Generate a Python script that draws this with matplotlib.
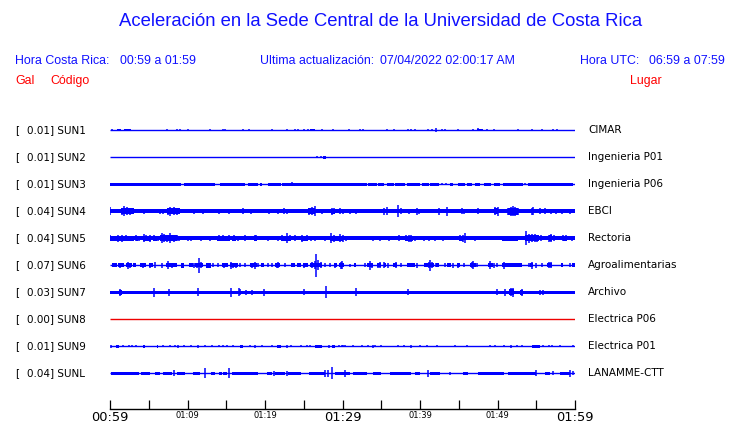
import matplotlib
matplotlib.use("Agg")
import matplotlib.pyplot as plt

W, H = 740, 423

# station labels, gal values and places (top to bottom)
codes = ["SUN1", "SUN2", "SUN3", "SUN4", "SUN5", "SUN6", "SUN7", "SUN8", "SUN9", "SUNL"]
gals = ["0.01", "0.01", "0.01", "0.04", "0.04", "0.07", "0.03", "0.00", "0.01", "0.04"]
places = ["CIMAR", "Ingenieria P01", "Ingenieria P06", "EBCI", "Rectoria",
          "Agroalimentarias", "Archivo", "Electrica P06", "Electrica P01", "LANAMME-CTT"]

# time axis (minutes after 00:59)
tick_min = [0, 5, 10, 15, 20, 25, 30, 35, 40, 45, 50, 55, 60]
tick_lbl = ["00:59", "", "01:09", "", "01:19", "", "01:29", "", "01:39", "", "01:49", "", "01:59"]
big_lbl = ["00:59", "01:29", "01:59"]

# half-width of the continuous body of each trace (px)
base = [0.0, 0.0, 0.0, 1.8, 1.9, 0.0, 1.8, 0.0, 0.0, 0.0]

# spikes: (minute, half amplitude px)
sun1_spk = [(0.2, 1.3), (1.0, 1.3), (1.3, 1.3), (1.9, 1.3), (2.6, 1.3), (7.4, 1.0), (8.6, 1.3),
            (9.0, 1.0), (10.0, 1.3), (12.9, 1.3), (14.6, 1.0), (14.9, 1.3), (17.2, 1.3), (17.9, 1.0),
            (20.9, 1.3), (22.8, 1.3), (23.9, 1.3), (24.3, 1.3), (25.0, 1.3), (25.6, 1.3), (26.2, 1.3),
            (27.3, 1.0), (28.8, 1.3), (30.9, 1.3), (32.3, 1.3), (32.6, 1.0), (35.8, 1.0), (36.6, 1.0),
            (38.5, 1.3), (38.8, 1.0), (39.4, 1.3), (41.0, 1.0), (41.5, 1.0), (42.1, 2.0), (42.8, 1.0),
            (43.2, 1.3), (44.9, 1.3), (46.8, 1.0), (47.5, 1.5), (48.0, 1.3), (48.6, 1.0), (49.5, 1.3),
            (52.7, 1.0), (54.5, 1.0), (55.8, 1.0), (57.2, 1.0), (57.7, 1.3)]
sun1_blk = [(0.9, 1.4, 1.2), (1.8, 2.7, 1.2), (47.3, 48.1, 1.3), (25.8, 26.4, 1.2)]

sun2_spk = [(26.7, 1.0), (27.2, 1.3)]
sun2_blk = [(27.5, 27.9, 1.5)]

sun3_spk = [(23.5, 2.0), (53.6, 1.2), (42.8, 1.2), (43.3, 1.2)]
sun3_blk = [(0.0, 0.2, 1.5), (0.3, 9.2, 1.5), (9.6, 13.6, 1.5), (14.2, 17.4, 1.5), (17.8, 19.1, 1.5),
            (19.4, 19.6, 1.5), (20.4, 22.0, 1.5), (22.2, 30.3, 1.5), (29.7, 33.1, 1.5), (33.3, 34.4, 1.5),
            (34.6, 35.3, 1.5), (35.7, 36.6, 1.5), (36.8, 38.1, 1.5), (38.3, 40.0, 1.5), (40.2, 41.1, 1.5),
            (41.3, 42.4, 1.5), (43.9, 44.3, 1.5), (44.9, 45.8, 1.5), (46.0, 46.7, 1.5), (47.1, 47.7, 1.5),
            (48.2, 49.2, 1.5), (49.5, 50.3, 1.5), (50.7, 53.3, 1.5), (53.9, 59.8, 1.5)]

sun4_spk = [(0.0, 4.0), (1.5, 3.5), (1.8, 5.3), (2.2, 4.0), (2.6, 3.5), (3.0, 3.0), (4.4, 2.5),
            (6.5, 2.5), (6.8, 2.5), (7.5, 3.5), (7.8, 4.5), (8.2, 4.0), (8.6, 3.5), (8.9, 3.0),
            (10.8, 2.5), (12.0, 2.5), (14.1, 2.5), (15.4, 2.5), (17.2, 3.0), (18.2, 2.5), (20.5, 2.5),
            (21.7, 2.5), (22.4, 3.0), (22.8, 2.5), (25.7, 3.5), (26.0, 4.0), (26.4, 5.3), (27.3, 2.5),
            (28.6, 3.5), (28.9, 3.0), (29.7, 3.0), (30.1, 2.5), (31.0, 2.5), (31.7, 2.5), (35.3, 3.5),
            (35.7, 4.0), (37.2, 6.3), (37.5, 3.0), (38.6, 2.5), (39.6, 3.5), (39.9, 2.5), (42.5, 3.5),
            (43.5, 4.5), (45.4, 3.0), (45.7, 2.5), (47.5, 3.0), (49.7, 4.0), (50.0, 4.5), (51.4, 3.5),
            (51.7, 4.5), (52.0, 5.3), (52.3, 4.5), (52.6, 3.5), (54.4, 3.5), (54.6, 4.0), (55.5, 3.0),
            (56.1, 3.0), (56.9, 2.5), (57.6, 2.5), (58.3, 2.5), (59.4, 2.5)]
sun4_blk = [(1.4, 3.1, 2.8), (7.4, 9.0, 3.0), (25.6, 26.5, 3.2), (28.5, 29.0, 2.6),
            (49.6, 50.1, 2.8), (51.3, 52.7, 3.5)]

sun5_spk = [(0.0, 3.0), (1.0, 3.5), (1.5, 3.5), (2.0, 3.0), (2.6, 2.5), (3.0, 2.5), (3.4, 3.0),
            (3.8, 2.5), (4.4, 4.0), (4.7, 3.0), (5.1, 3.5), (5.7, 3.0), (6.2, 2.5), (6.7, 5.0),
            (7.0, 4.0), (7.3, 3.5), (7.8, 5.0), (8.2, 3.5), (8.6, 3.0), (8.9, 2.5), (10.0, 2.5),
            (10.5, 2.5), (11.7, 2.5), (12.9, 2.5), (14.0, 3.0), (14.6, 3.0), (15.3, 3.0), (16.0, 3.0),
            (16.5, 2.5), (17.4, 3.0), (18.7, 3.0), (18.9, 3.0), (20.4, 2.5), (21.7, 2.5), (22.2, 3.0),
            (22.9, 5.0), (23.2, 3.0), (23.9, 3.0), (24.8, 3.5), (25.4, 3.0), (25.9, 2.5), (26.5, 2.5),
            (27.8, 2.5), (28.5, 5.0), (28.9, 3.5), (29.7, 4.0), (30.0, 3.5), (30.5, 2.5), (33.9, 2.5),
            (34.8, 2.5), (36.0, 2.5), (37.3, 3.0), (38.2, 3.0), (38.6, 3.5), (38.9, 3.5), (39.4, 2.5),
            (40.5, 2.5), (41.2, 2.5), (41.9, 2.5), (43.0, 2.5), (45.1, 3.0), (45.5, 3.5), (45.8, 5.0),
            (47.1, 2.5), (50.7, 2.5), (51.4, 2.5), (51.8, 2.5), (52.5, 2.5), (53.7, 7.0), (54.0, 4.5),
            (54.4, 4.0), (54.8, 4.0), (55.1, 3.5), (55.6, 3.0), (56.7, 3.5), (56.9, 4.0), (57.3, 3.0),
            (58.5, 3.0), (58.9, 3.0), (59.6, 2.5)]
sun5_blk = [(0.0, 3.1, 2.5), (3.3, 3.6, 2.6), (4.2, 5.3, 2.6), (5.6, 6.0, 2.6), (6.5, 8.6, 2.8),
            (13.8, 15.5, 2.4), (15.8, 16.2, 2.4), (18.6, 19.0, 2.6), (22.0, 23.3, 2.6), (24.6, 25.5, 2.5),
            (28.4, 30.1, 2.6), (38.1, 39.1, 2.6), (45.0, 45.6, 2.6), (50.6, 52.6, 2.3),
            (53.6, 55.4, 3.2), (56.6, 57.0, 2.8), (58.4, 59.0, 2.5)]

sun6_spk = [(1.1, 2.0), (1.3, 2.5), (1.7, 2.0), (2.3, 3.5), (2.6, 2.5), (4.2, 2.5), (4.5, 2.0),
            (5.1, 2.5), (5.4, 2.0), (5.8, 3.0), (6.7, 2.5), (7.5, 4.0), (8.0, 2.5), (8.4, 2.0),
            (10.3, 2.0), (10.8, 2.5), (11.2, 2.5), (11.5, 7.5), (11.8, 3.0), (13.3, 2.0), (13.9, 2.0),
            (14.7, 2.5), (15.0, 2.0), (15.6, 3.5), (15.9, 2.5), (16.3, 2.5), (16.8, 2.0), (17.4, 2.0),
            (18.3, 2.5), (18.7, 3.5), (19.1, 2.0), (20.4, 2.0), (20.9, 2.0), (21.5, 2.5), (21.7, 3.0),
            (22.6, 2.0), (24.3, 2.0), (25.0, 2.5), (25.4, 2.0), (26.0, 3.0), (26.4, 4.0), (26.6, 11.7),
            (26.9, 5.0), (27.2, 3.0), (27.7, 2.0), (28.4, 2.0), (29.0, 2.5), (29.8, 3.5), (29.9, 4.0),
            (31.0, 1.5), (32.9, 2.0), (33.5, 4.5), (33.8, 2.5), (34.6, 2.5), (34.8, 3.0), (35.4, 3.0),
            (35.9, 2.5), (36.6, 2.0), (36.9, 3.0), (37.6, 2.0), (38.5, 2.0), (39.2, 2.0), (39.6, 2.5),
            (40.6, 2.0), (41.1, 3.0), (41.3, 5.3), (41.6, 3.0), (42.1, 2.0), (43.2, 2.0), (43.6, 2.0),
            (44.3, 2.5), (44.9, 2.5), (45.7, 2.0), (46.7, 3.0), (46.9, 4.0), (47.3, 2.0), (49.0, 4.0),
            (49.5, 2.5), (49.9, 2.0), (50.8, 3.5), (54.0, 2.0), (54.4, 3.5), (55.0, 2.5), (55.7, 2.0),
            (56.6, 3.0), (56.9, 3.0), (58.3, 2.0), (59.4, 2.0), (59.8, 2.0)]
sun6_blk = [(0.2, 0.9, 2.0), (1.0, 1.8, 2.0), (2.1, 2.8, 2.0), (3.0, 3.4, 2.0), (3.9, 4.6, 2.0),
            (5.0, 5.6, 2.0), (7.2, 8.6, 2.0), (9.2, 9.6, 2.5), (10.2, 10.7, 2.0), (11.0, 12.0, 2.2),
            (12.4, 13.0, 2.3), (14.5, 15.2, 2.0), (15.5, 16.5, 2.0), (18.1, 19.0, 2.0), (19.5, 19.9, 2.0),
            (21.3, 21.9, 2.0), (23.3, 23.9, 2.0), (24.1, 24.6, 2.0), (24.9, 25.5, 2.0), (25.8, 27.3, 2.2),
            (28.9, 29.3, 2.0), (29.6, 30.2, 2.2), (31.5, 31.8, 2.0), (33.2, 33.9, 2.0), (34.5, 35.0, 2.0),
            (35.3, 35.6, 2.0), (36.5, 37.0, 2.0), (38.3, 39.4, 2.0), (40.5, 41.8, 2.2), (42.0, 42.5, 2.0),
            (43.5, 44.0, 2.0), (44.8, 45.1, 2.0), (46.5, 47.2, 2.2), (48.8, 49.4, 2.0), (50.6, 53.1, 2.0),
            (54.2, 54.6, 2.0), (56.4, 57.0, 2.2), (58.2, 58.5, 2.0), (59.6, 60.0, 2.0)]

sun7_spk = [(1.3, 3.5), (5.7, 4.5), (7.6, 3.5), (11.3, 4.0), (15.6, 4.5), (16.6, 4.0), (16.8, 3.0),
            (17.6, 2.5), (18.3, 2.5), (19.9, 3.5), (25.0, 3.0), (27.9, 6.0), (31.8, 4.0), (38.5, 3.0),
            (49.97, 3.0), (51.0, 3.5), (51.7, 4.0), (52.0, 4.5), (53.1, 3.5), (55.5, 2.5), (55.9, 2.5)]
sun7_blk = [(1.2, 1.5, 2.8), (51.5, 52.1, 3.0), (52.9, 53.3, 2.8)]

sun8_spk = []
sun8_blk = []

sun9_spk = [(0.13, 1.3), (1.7, 1.0), (2.4, 1.0), (2.8, 1.0), (3.4, 1.0), (6.9, 1.0), (7.7, 1.0),
            (8.4, 1.0), (8.8, 1.3), (9.5, 1.0), (10.5, 1.0), (11.4, 1.3), (12.3, 1.0), (13.1, 1.0),
            (14.0, 1.0), (14.6, 1.0), (15.1, 1.0), (15.9, 1.0), (18.1, 1.0), (18.7, 1.3), (19.6, 1.0),
            (20.9, 1.0), (22.8, 1.3), (23.4, 1.0), (24.7, 1.0), (25.4, 1.0), (25.8, 1.0), (28.2, 1.3),
            (29.5, 1.0), (30.1, 1.0), (29.9, 1.0), (30.3, 1.0), (31.4, 1.0), (32.5, 1.0), (33.3, 1.0),
            (33.9, 1.3), (34.2, 1.0), (35.0, 1.0), (37.2, 1.0), (37.9, 1.0), (38.9, 1.3), (40.0, 1.0),
            (40.9, 1.0), (42.2, 1.0), (44.5, 1.0), (46.0, 1.0), (49.0, 1.0), (49.7, 1.0), (50.9, 1.0),
            (51.7, 1.3), (52.5, 1.0), (53.1, 1.0), (55.9, 1.0), (56.6, 1.0), (57.0, 1.0), (58.1, 1.0),
            (59.8, 1.0)]
sun9_blk = [(0.8, 1.1, 1.3), (4.2, 4.5, 1.3), (6.0, 6.2, 1.3), (16.8, 17.1, 1.3), (21.6, 22.1, 1.3),
            (26.5, 27.3, 1.3), (28.7, 29.0, 1.3), (54.4, 55.5, 1.3)]

sunl_spk = [(8.2, 3.0), (12.2, 5.0), (15.4, 5.0), (21.1, 2.5), (22.8, 2.5), (27.8, 3.5), (28.1, 3.5),
            (28.6, 6.0), (30.3, 3.5), (41.0, 3.5), (43.9, 1.5), (55.0, 3.0), (57.2, 2.0), (59.3, 3.5),
            (59.8, 2.0)]
sunl_blk = [(0.1, 3.7, 1.7), (4.0, 5.2, 1.7), (5.8, 6.5, 1.5), (6.9, 8.0, 1.7), (8.6, 9.7, 1.5),
            (10.7, 11.6, 1.7), (13.0, 13.6, 1.5), (14.0, 14.4, 1.5), (14.6, 15.1, 1.5), (15.7, 19.1, 1.7),
            (20.2, 20.9, 1.5), (21.3, 22.6, 1.7), (23.0, 24.7, 1.5), (25.7, 27.7, 1.7), (29.0, 31.0, 1.7),
            (31.4, 33.1, 1.7), (33.9, 35.0, 1.7), (36.1, 38.9, 1.7), (39.4, 40.0, 1.5), (41.3, 42.6, 1.7),
            (45.6, 46.2, 1.3), (47.5, 50.9, 1.7), (51.4, 55.0, 1.7), (56.1, 56.8, 1.5), (58.1, 59.4, 1.7)]

spikes = [sun1_spk, sun2_spk, sun3_spk, sun4_spk, sun5_spk, sun6_spk, sun7_spk, sun8_spk, sun9_spk, sunl_spk]
blocks = [sun1_blk, sun2_blk, sun3_blk, sun4_blk, sun5_blk, sun6_blk, sun7_blk, sun8_blk, sun9_blk, sunl_blk]
colors = ["#0000ff"] * 7 + ["#ee0000"] + ["#0000ff"] * 2


def fx(x):
    return x / W


def fy(y):
    return 1 - y / H


fig = plt.figure(figsize=(W / 100, H / 100), dpi=100)

# trace area, y in screen pixels
ax = fig.add_axes([fx(110), fy(409), fx(575) - fx(110), fy(110) - fy(409)])
ax.set_xlim(0, 60)
ax.set_ylim(409, 110)
for s in ["top", "left", "right"]:
    ax.spines[s].set_visible(False)
ax.spines["bottom"].set_linewidth(1.0)
ax.set_yticks([])
ax.set_xticks(tick_min)
ax.set_xticklabels(tick_lbl)
ax.tick_params(axis="x", direction="in", length=6.5, width=0.9, pad=1.5, colors="black")
for lab in ax.get_xticklabels():
    lab.set_fontsize(9.4 if lab.get_text() in big_lbl else 6)

y_first, step = 130, 27.05
for i in range(len(codes)):
    y0 = y_first + i * step
    c = colors[i]
    ax.plot([0, 60], [y0, y0], color=c, lw=1.0, solid_capstyle="butt")
    if base[i] > 0:
        ax.fill_between([0, 60], y0 - base[i], y0 + base[i], color=c, lw=0)
    for t0, t1, a in blocks[i]:
        ax.fill_between([t0, t1], y0 - a, y0 + a, color=c, lw=0)
    if spikes[i]:
        ts = [s[0] for s in spikes[i]]
        amps = [s[1] for s in spikes[i]]
        ax.vlines(ts, [y0 - a for a in amps], [y0 + a for a in amps], color=c, lw=1.1)

    lab_kw = dict(fontsize=7.5, family="DejaVu Sans", va="center", color="black")
    fig.text(fx(15), fy(y0), "[", ha="left", **lab_kw)
    fig.text(fx(27), fy(y0), gals[i] + "] " + codes[i], ha="left", **lab_kw)
    fig.text(fx(588), fy(y0), places[i], ha="left", **lab_kw)

# header
hdr = dict(family="Liberation Sans", va="center")
blue = "#1010ff"
fig.text(fx(381), fy(21), "Aceleración en la Sede Central de la Universidad de Costa Rica",
         ha="center", fontsize=13.3, color=blue, **hdr)
fig.text(fx(15), fy(61), "Hora Costa Rica:", ha="left", fontsize=8.9, color=blue, **hdr)
fig.text(fx(120), fy(61), "00:59 a 01:59", ha="left", fontsize=8.9, color=blue, **hdr)
fig.text(fx(260), fy(61), "Ultima actualización:", ha="left", fontsize=8.9, color=blue, **hdr)
fig.text(fx(380), fy(61), "07/04/2022 02:00:17 AM", ha="left", fontsize=8.9, color=blue, **hdr)
fig.text(fx(580), fy(61), "Hora UTC:", ha="left", fontsize=8.9, color=blue, **hdr)
fig.text(fx(725), fy(61), "06:59 a 07:59", ha="right", fontsize=8.9, color=blue, **hdr)
fig.text(fx(15), fy(81), "Gal", ha="left", fontsize=8.9, color="#ff0000", **hdr)
fig.text(fx(50), fy(81), "Código", ha="left", fontsize=8.9, color="#ff0000", **hdr)
fig.text(fx(662), fy(81), "Lugar", ha="right", fontsize=8.9, color="#ff0000", **hdr)

fig.savefig("out.png", dpi=100)
